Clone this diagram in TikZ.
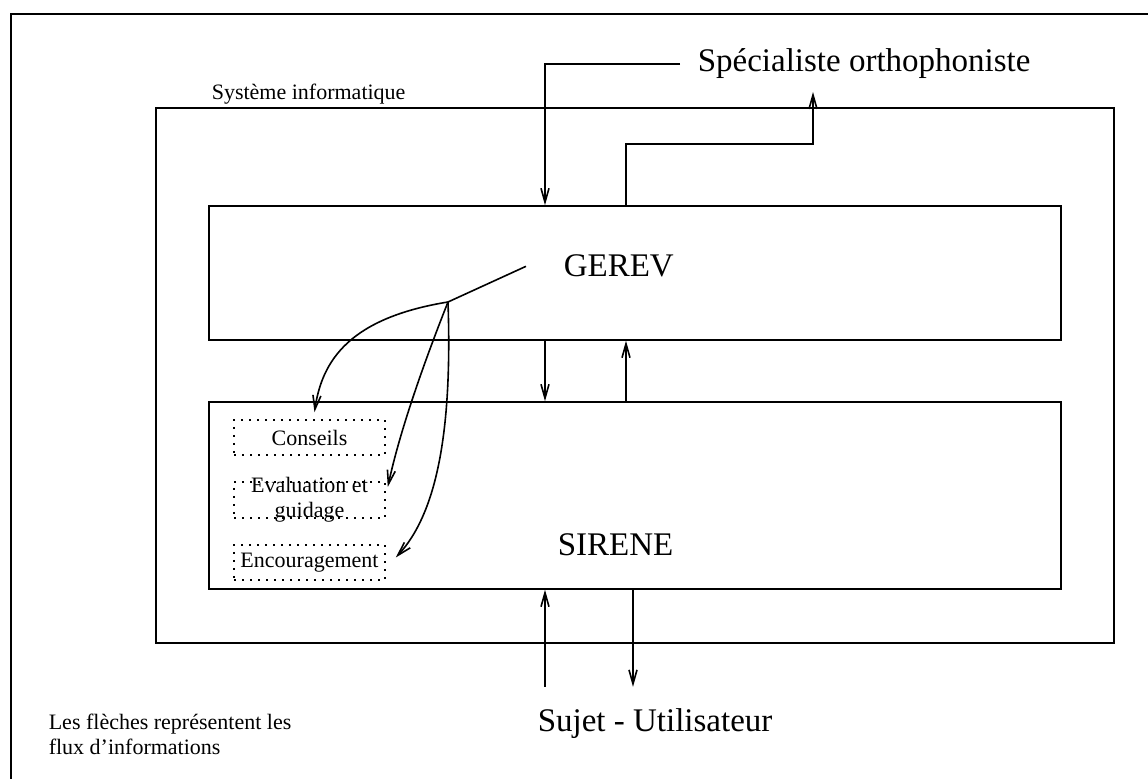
\documentclass[tikz,border=0pt]{standalone}
\usepackage{fontspec}
\setmainfont{Liberation Serif}
\usetikzlibrary{arrows.meta}

\begin{document}
\begin{tikzpicture}[x=0.5pt,y=-0.5pt,line width=0.8pt,
    >={Straight Barb[length=7pt,width=4pt]},
    box/.style={draw,inner sep=0pt},
    dotbox/.style={draw,dash pattern=on 0.8pt off 3.2pt,inner sep=0pt,
      minimum width=75.5pt},
    big/.style={font=\fontsize{16.5}{20}\selectfont,inner sep=0pt},
    small/.style={font=\fontsize{11}{12.5}\selectfont,inner sep=0pt}]
    \useasboundingbox (0,0) rectangle (1148,779);
    % cadre de la page
    \draw (1148,14) -- (11,14) -- (11,779);
    % les blocs
    \node [box, minimum width=479pt, minimum height=267.5pt] (sys) at
    (635,375.5) {}; \node [box, minimum width=426pt, minimum
    height=67pt] (gerev) at (635,273) {}; \node [box, minimum
    width=426pt, minimum height=93.5pt] (sirene) at (635,495.5) {};
    \node [small, anchor=base west] (systxt) at (211,100) {Système
      informatique};
    \node [dotbox, small, minimum height=17.5pt] (conseils) at
    (309.5,437.5) {Conseils}; \node [dotbox, minimum height=18pt]
    (eval) at (309.5,500) {}; \node [small, align=center] (evaltxt) at
    (eval) {Evaluation et\\guidage}; \node [dotbox, small, minimum
    height=17.5pt] (encour) at (309.5,562.5) {Encouragement};
    % les textes
    \node [big, anchor=base west, inner xsep=8.5pt] (spec) at (680,72)
    {Spécialiste orthophoniste}; \node [big, anchor=base west, inner
    xsep=18.5pt] (gtxt) at (526,277) {GEREV}; \node [big, anchor=base
    west] (stxt) at (557,556) {SIRENE}; \node [big, anchor=base west,
    inner ysep=10.75pt] (user) at (537,732) {Sujet - Utilisateur};
    \node [small, anchor=north west, align=left] (note) at (48,713)
    {Les flèches représentent les\\flux d'informations};
    % les flux
    \coordinate (xa) at (545,0); \coordinate (xb) at (626,0);
    \coordinate (xc) at (813,92); \coordinate (xd) at (633,0);
    \coordinate (jn) at (448,302);
    \draw [->] (spec.west) -| (gerev.north -| xa); \draw [->]
    (gerev.north -| xb) -- ++(0,-61) -| (xc); \draw [->] (gerev.south
    -| xa) -- (sirene.north -| xa); \draw [->] (sirene.north -| xb) --
    (gerev.south -| xb); \draw [->] (user.north -| xa) -- (sirene.south
    -| xa); \draw [->] (sirene.south -| xd) -- (user.north -| xd);
    % GEREV vers les modules
    \draw (gtxt.west) -- (jn); \draw [->] (jn) .. controls (350,318)
    and (322,360) .. ([shift={(5,-7)}]conseils.north); \draw [->] (jn)
    .. controls (425,360) and (400,430) .. ([shift={(2,-13)}]eval.east);
    \draw [->] (jn) .. controls (452,420) and (440,510)
    .. ([shift={(10,-5)}]encour.east);
  \end{tikzpicture}
\end{document}
